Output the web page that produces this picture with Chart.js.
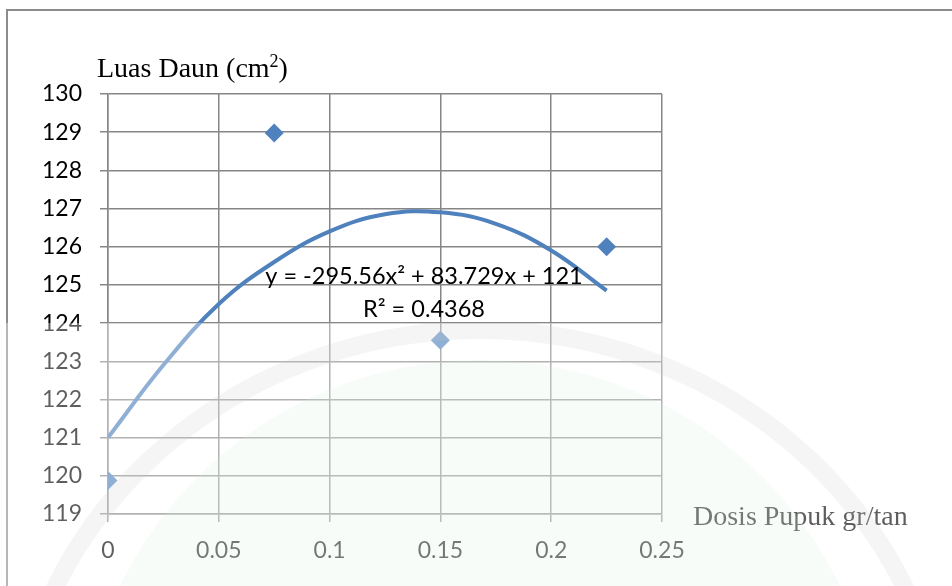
<!DOCTYPE html>
<html>
<head>
<meta charset="utf-8">
<script src="https://cdn.jsdelivr.net/npm/chart.js@4.4.1/dist/chart.umd.min.js"></script>
<style>
  html, body { margin: 0; padding: 0; background: #fff; }
  #wrap { width: 952px; height: 586px; position: relative; }
</style>
</head>
<body>
<div id="wrap"><canvas id="chart" width="952" height="586"></canvas></div>
<script>
// data
const doses = [0, 0.075, 0.15, 0.225];
const luasDaun = [119.88, 128.98, 123.55, 126.0];

// polynomial trendline
const trendX = [0, 0.025, 0.05, 0.075, 0.1, 0.125, 0.15, 0.175, 0.2, 0.225];
const trendY = [121.0, 122.9, 124.5, 125.6, 126.4, 126.85, 126.9, 126.6, 125.9, 124.85];

const xTicks = [0, 0.05, 0.1, 0.15, 0.2, 0.25];
const yTicks = [119, 120, 121, 122, 123, 124, 125, 126, 127, 128, 129, 130];

const eqLine1 = 'y = -295.56x\u00B2 + 83.729x + 121';
const eqLine2 = 'R\u00B2 = 0.4368';

const blue = '#4F81BD';
const gridGray = '#868686';
const tickFont = { family: 'Lato', size: 23 };

const ctx = document.getElementById('chart').getContext('2d');

// titles, equation, frame and the faint watermark on top
const extras = {
  id: 'extras',
  beforeDraw(chart) {
    const c = chart.ctx;
    c.save();
    c.fillStyle = '#fff';
    c.fillRect(0, 0, chart.width, chart.height);
    c.strokeStyle = '#8c8c8c';
    c.lineWidth = 2;
    c.beginPath();
    c.moveTo(7, chart.height);
    c.lineTo(7, 10);
    c.lineTo(chart.width, 10);
    c.stroke();
    c.restore();
  },
  afterDatasetsDraw(chart) {
    const c = chart.ctx;
    const area = chart.chartArea;
    c.save();
    c.fillStyle = '#000';
    c.font = '23.5px Lato';
    c.textAlign = 'center';
    c.textBaseline = 'middle';
    const cx = area.left + 316;
    c.fillText(eqLine1, cx, 276);
    c.fillText(eqLine2, cx, 309);
    c.restore();
  },
  afterDraw(chart) {
    const c = chart.ctx;
    const area = chart.chartArea;
    c.save();
    c.fillStyle = '#000';
    c.textBaseline = 'alphabetic';
    c.textAlign = 'left';
    // y axis title with a raised 2
    let x = 97;
    const by = 77;
    c.font = '28px "Liberation Serif"';
    const part1 = 'Luas Daun (cm';
    c.fillText(part1, x, by);
    x += c.measureText(part1).width;
    c.font = '18px "Liberation Serif"';
    c.fillText('2', x, by - 10);
    x += c.measureText('2').width;
    c.font = '28px "Liberation Serif"';
    c.fillText(')', x, by);
    // x axis title
    c.fillText('Dosis Pupuk gr/tan', area.right + 31, 525);

    // watermark: whitish sheet over the lower part, with a faint logo ring
    c.fillStyle = 'rgba(255,255,255,0.37)';
    c.fillRect(0, 323, chart.width, chart.height - 323);
    c.beginPath();
    c.rect(0, 323, chart.width, chart.height - 323);
    c.clip();
    c.fillStyle = 'rgba(215,240,222,0.18)';
    c.beginPath();
    c.ellipse(480, 760, 400, 400, 0, 0, Math.PI * 2);
    c.fill();
    c.strokeStyle = 'rgba(200,200,200,0.18)';
    c.lineWidth = 18;
    c.beginPath();
    c.ellipse(480, 780, 470, 450, 0, 0, Math.PI * 2);
    c.stroke();
    c.restore();
  }
};

const chart = new Chart(ctx, {
  type: 'scatter',
  data: {
    datasets: [
      {
        label: 'Trendline',
        data: trendX.map((v, i) => ({ x: v, y: trendY[i] })),
        showLine: true,
        borderColor: blue,
        borderWidth: 4,
        pointRadius: 0,
        tension: 0.4,
        order: 2
      },
      {
        label: 'Luas Daun',
        data: doses.map((v, i) => ({ x: v, y: luasDaun[i] })),
        pointStyle: 'rectRot',
        pointRadius: 9.5,
        pointBackgroundColor: blue,
        pointBorderColor: blue,
        pointBorderWidth: 0,
        order: 1
      }
    ]
  },
  options: {
    responsive: false,
    animation: false,
    events: [],
    layout: { padding: { top: 94, right: 290, bottom: 0, left: 0 } },
    plugins: {
      legend: { display: false },
      tooltip: { enabled: false }
    },
    scales: {
      x: {
        type: 'linear',
        min: 0,
        max: 0.25,
        afterBuildTicks: s => { s.ticks = xTicks.map(v => ({ value: v })); },
        afterFit: s => { s.height = 72; },
        grid: { color: gridGray, lineWidth: 1.5, tickLength: 8 },
        border: { color: gridGray, width: 1.5 },
        ticks: {
          color: '#000',
          font: tickFont,
          padding: 15,
          maxRotation: 0,
          callback: v => String(Number(v.toFixed(2)))
        }
      },
      y: {
        min: 119,
        max: 130,
        afterBuildTicks: s => { s.ticks = yTicks.map(v => ({ value: v })); },
        afterFit: s => { s.width = 108; },
        grid: { color: gridGray, lineWidth: 1.5, tickLength: 8 },
        border: { color: gridGray, width: 1.5 },
        ticks: {
          color: '#000',
          font: tickFont,
          padding: 18,
          callback: v => String(v)
        }
      }
    }
  },
  plugins: [extras]
});
</script>
</body>
</html>
